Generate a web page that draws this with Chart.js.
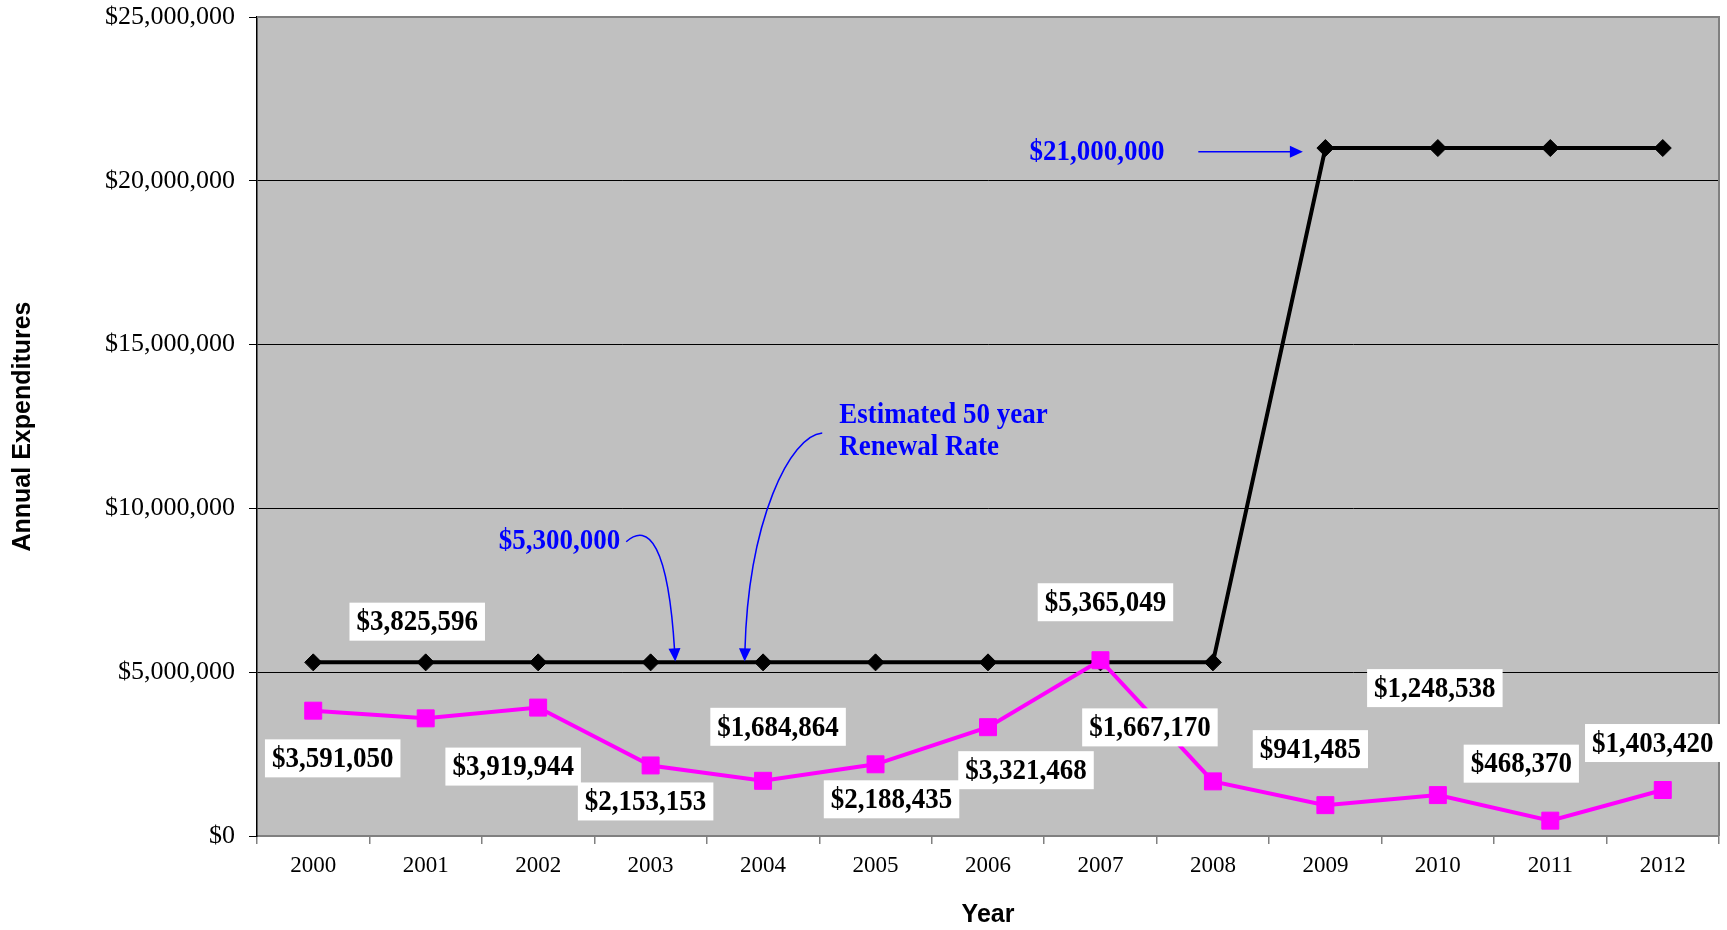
<!DOCTYPE html>
<html>
<head>
<meta charset="utf-8">
<title>Annual Expenditures</title>
<script src="https://cdn.jsdelivr.net/npm/chart.js@4.4.1/dist/chart.umd.min.js"></script>
<style>
  body { margin: 0; background: #fff; }
  canvas { display: block; }
</style>
</head>
<body>
<canvas id="chart" width="1727" height="930"></canvas>
<script>
const years = ['2000', '2001', '2002', '2003', '2004', '2005', '2006', '2007', '2008', '2009', '2010', '2011', '2012'] ;
const actual = [3825596, 3591050, 3919944, 2153153, 1684864, 2188435, 3321468, 5365049, 1667170, 941485, 1248538, 468370, 1403420] ;
const renewalRate = [5300000, 5300000, 5300000, 5300000, 5300000, 5300000, 5300000, 5300000, 5300000, 21000000, 21000000, 21000000, 21000000] ;
const yTicks = [0, 5000000, 10000000, 15000000, 20000000, 25000000] ;

// value labels were dragged around by hand in the original, so keep pixel offsets from each point
const labelOffsets = [[104, -89], [-93, 40], [-25, 59], [-5, 36], [15, -54], [16, 35], [38, 43], [5, -58], [-63, -54], [-15, -56], [-3, -107], [-29, -57], [-10, -47]] ;

const serif = '"Liberation Serif", "Times New Roman", serif' ;
const sans = '"Liberation Sans", Arial, sans-serif' ;
const blue = '#0000ff' ;

function money(v) {
    return '$' + Number(v).toLocaleString('en-US') ;
}

function arrowHead(ctx, x, y, ang) {
    ctx.save() ;
    ctx.translate(x, y) ;
    ctx.rotate(ang) ;
    ctx.beginPath() ;
    ctx.moveTo(0, 0) ;
    ctx.lineTo(-13, -6) ;
    ctx.lineTo(-13, 6) ;
    ctx.closePath() ;
    ctx.fill() ;
    ctx.restore() ;
}

// text in the original looks a little taller than wide
function tallText(ctx, text, x, y) {
    ctx.save() ;
    ctx.translate(x, y) ;
    ctx.scale(1, 1.12) ;
    ctx.fillText(text, 0, 0) ;
    ctx.restore() ;
}

const plotBox = {
    id: 'plotBox',
    beforeDraw(chart) {
        const { ctx, chartArea: { left, top, right, bottom } } = chart ;
        ctx.save() ;
        ctx.fillStyle = '#c0c0c0' ;
        ctx.fillRect(left, top, right - left, bottom - top) ;
        ctx.restore() ;
    },
    beforeDatasetsDraw(chart) {
        const { ctx, chartArea: { left, top, right, bottom } } = chart ;
        ctx.save() ;
        ctx.strokeStyle = '#808080' ;
        ctx.lineWidth = 2 ;
        ctx.beginPath() ;
        ctx.moveTo(left, top) ;
        ctx.lineTo(right, top) ;
        ctx.lineTo(right, bottom) ;
        ctx.stroke() ;
        ctx.restore() ;
    }
} ;

const valueLabels = {
    id: 'valueLabels',
    afterDatasetsDraw(chart) {
        const { ctx } = chart ;
        const pts = chart.getDatasetMeta(0).data ;
        ctx.save() ;
        ctx.font = 'bold 27px ' + serif ;
        ctx.textAlign = 'center' ;
        ctx.textBaseline = 'middle' ;
        pts.forEach((p, i) => {
            const text = money(actual[i]) ;
            const cx = p.x + labelOffsets[i][0] ;
            const cy = p.y + labelOffsets[i][1] ;
            const w = ctx.measureText(text).width + 14 ;
            ctx.fillStyle = '#fff' ;
            ctx.fillRect(cx - w / 2, cy - 19, w, 38) ;
            ctx.fillStyle = '#000' ;
            tallText(ctx, text, cx, cy + 1) ;
        }) ;
        ctx.restore() ;
    }
} ;

// blue call-outs, placed in data units (category index, dollars)
const notes = {
    id: 'notes',
    afterDraw(chart) {
        const { ctx, scales: { x, y } } = chart ;
        const P = (i, v) => [x.getPixelForValue(i), y.getPixelForValue(v)] ;
        ctx.save() ;
        ctx.fillStyle = blue ;
        ctx.strokeStyle = blue ;
        ctx.lineWidth = 1.5 ;
        ctx.font = 'bold 27px ' + serif ;
        ctx.textBaseline = 'middle' ;

        // $21,000,000 with straight arrow
        let p = P(6.97, 20860000) ;
        ctx.textAlign = 'center' ;
        tallText(ctx, '$21,000,000', p[0], p[1]) ;
        const a0 = P(7.87, 20890000), a1 = P(8.8, 20890000) ;
        ctx.beginPath() ;
        ctx.moveTo(a0[0], a0[1]) ;
        ctx.lineTo(a1[0] - 10, a1[1]) ;
        ctx.stroke() ;
        arrowHead(ctx, a1[0], a1[1], 0) ;

        // $5,300,000 with curved arrow
        p = P(2.73, 9010000) ;
        ctx.textAlign = 'right' ;
        tallText(ctx, '$5,300,000', p[0], p[1]) ;
        drawCurve(ctx, P(2.783, 8980000), P(2.98, 9590000), P(3.157, 8890000), P(3.219, 5330000)) ;

        // Estimated 50 year Renewal Rate
        p = P(4.677, 12860000) ;
        ctx.textAlign = 'left' ;
        tallText(ctx, 'Estimated 50 year', p[0], p[1]) ;
        p = P(4.677, 11860000) ;
        tallText(ctx, 'Renewal Rate', p[0], p[1]) ;
        drawCurve(ctx, P(4.526, 12300000), P(4.24, 12220000), P(3.869, 9650000), P(3.836, 5330000)) ;
        ctx.restore() ;
    }
} ;

function drawCurve(ctx, s, c1, c2, e) {
    const ang = Math.atan2(e[1] - c2[1], e[0] - c2[0]) ;
    const ex = e[0] - Math.cos(ang) * 10, ey = e[1] - Math.sin(ang) * 10 ;
    ctx.beginPath() ;
    ctx.moveTo(s[0], s[1]) ;
    ctx.bezierCurveTo(c1[0], c1[1], c2[0], c2[1], ex, ey) ;
    ctx.stroke() ;
    arrowHead(ctx, e[0], e[1], ang) ;
}

const chart = new Chart(document.getElementById('chart'), {
    type: 'line',
    data: {
        labels: years,
        datasets: [{
            label: 'Actual',
            data: actual,
            borderColor: '#ff00ff',
            backgroundColor: '#ff00ff',
            borderWidth: 4,
            pointStyle: 'rect',
            pointRadius: 12,
            pointBorderWidth: 1,
            tension: 0
        }, {
            label: 'Estimated 50 year Renewal Rate',
            data: renewalRate,
            borderColor: '#000',
            backgroundColor: '#000',
            borderWidth: 4,
            pointStyle: 'rectRot',
            pointRadius: 8.5,
            pointBorderWidth: 1,
            tension: 0
        }]
    },
    options: {
        responsive: false,
        animation: false,
        layout: { autoPadding: false, padding: { top: 17, right: 8, left: 0, bottom: 0 } },
        scales: {
            x: {
                offset: true,
                grid: { offset: true, drawOnChartArea: false, color: '#808080', tickLength: 8, lineWidth: 1.5 },
                border: { color: '#808080', width: 2 },
                ticks: { color: '#000', font: { family: serif, size: 23 }, padding: 8 },
                title: { display: true, text: 'Year', color: '#000', font: { family: sans, size: 25, weight: 'bold' }, padding: 0 },
                afterFit(s) {
                    s.height = 94 ;
                    s.paddingLeft = 0 ;
                    s.paddingRight = 0 ;
                }
            },
            y: {
                min: 0,
                max: 25000000,
                afterBuildTicks(s) { s.ticks = yTicks.map(v => ({ value: v })) ; },
                ticks: { color: '#000', font: { family: serif, size: 26 }, padding: 14, callback: v => money(v) },
                grid: {
                    color: c => (c.tick && (c.tick.value === 0 || c.tick.value === 25000000)) ? '#808080' : '#000',
                    tickColor: '#000',
                    tickLength: 8,
                    lineWidth: 1
                },
                border: { color: '#000', width: 1.5 },
                title: { display: true, text: 'Annual Expenditures', color: '#000', font: { family: sans, size: 25, weight: 'bold' }, padding: { top: 8, bottom: 0 } },
                afterFit(s) {
                    s.width = 257 ;
                    s.paddingTop = 0 ;
                    s.paddingBottom = 0 ;
                }
            }
        },
        plugins: {
            legend: { display: false },
            tooltip: { enabled: false }
        }
    },
    plugins: [plotBox, valueLabels, notes]
}) ;
</script>
</body>
</html>
